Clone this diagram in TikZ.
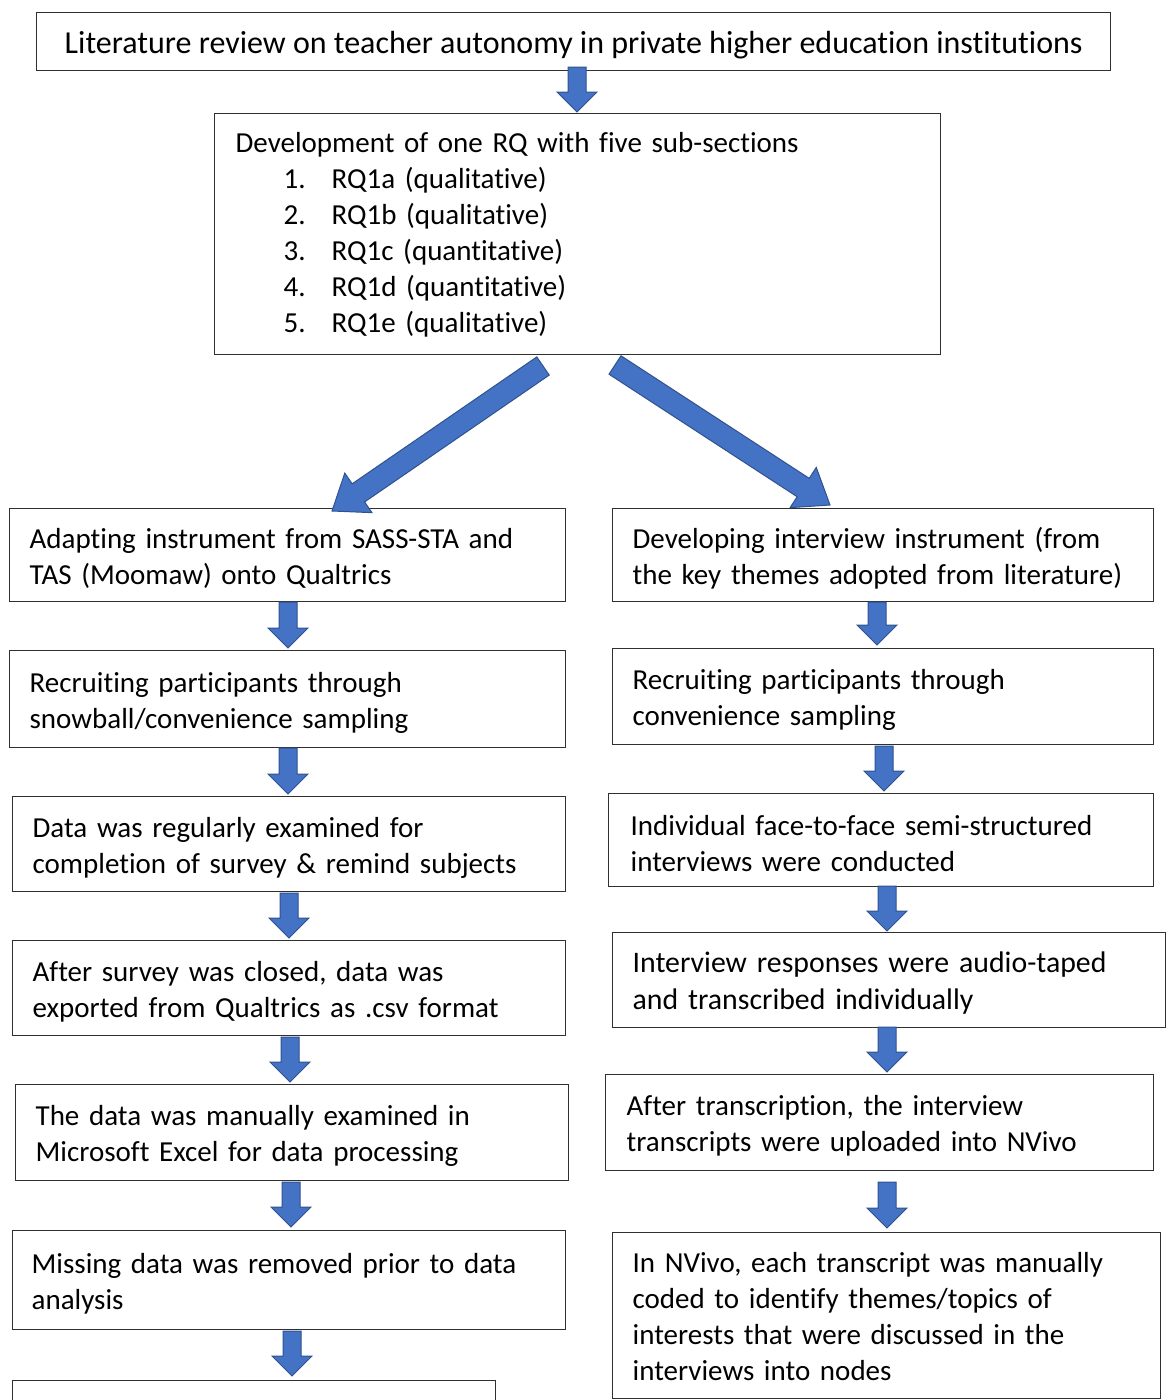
\documentclass[tikz,border=0pt]{standalone}
\usepackage{fontspec}
\setmainfont{Carlito}[Ligatures=NoCommon]
\usetikzlibrary{calc}

\definecolor{arrowblue}{HTML}{4472C4}
\definecolor{arrowedge}{HTML}{2F528F}
\definecolor{boxedge}{HTML}{303030}

% height of the strut opening each box's first line
\newcommand\boxstrut{27pt}

\tikzset{
  stepbox/.style={draw=boxedge, line width=1.3pt, anchor=north west, align=left,
    inner xsep=20pt, inner ysep=0pt, font=\fontsize{29}{36}\selectfont,
    execute at begin node={\rule{0pt}{\boxstrut}}},
  tallbox/.style={/utils/exec={\renewcommand\boxstrut{21pt}}},
  blockarrow/.style={fill=arrowblue, draw=arrowedge, line width=1pt, line join=miter},
}

% \flowbox[extra options]{name}{x1}{y1}{x2}{y2}{left padding}{text}
\newcommand\flowbox[8][]{%
  \pgfmathsetmacro\bw{#5-#3}%
  \pgfmathsetmacro\bh{#6-#4}%
  \pgfmathsetmacro\tw{#5-#3-2*#7}%
  \node[stepbox, inner xsep=#7pt, minimum width=\bw pt, minimum height=\bh pt,
        text width=\tw pt, #1] (#2) at (#3,#4) {#8};}

% \blkarrow{tail}{tip}{shaft half width}{head half width}{head length}
\newcommand\blkarrow[5]{%
  \coordinate (hb) at ($(#2)!#5pt!(#1)$);
  \filldraw[blockarrow]
    ($(#1)!#3pt!90:(#2)$) -- ($(hb)!#3pt!-90:(#1)$) -- ($(hb)!#4pt!-90:(#1)$)
    -- (#2) -- ($(hb)!#4pt!90:(#1)$) -- ($(hb)!#3pt!90:(#1)$)
    -- ($(#1)!#3pt!-90:(#2)$) -- cycle;}

% vertical block arrow between two stacked boxes
\newcommand\stepdown[4]{% name, x, y tail, y tip
  \coordinate (#1t) at (#2,#3);
  \coordinate (#1h) at (#2,#4);
  \blkarrow{#1t}{#1h}{9}{20}{20}}

\begin{document}
\begin{tikzpicture}[x=1pt, y=-1pt]
\useasboundingbox (0,0) rectangle (1168,1400);
\clip (0,0) rectangle (1168,1400);

% top box
\node[stepbox, align=center, inner xsep=0pt, minimum width=1074pt, minimum height=58pt,
      font=\fontsize{32}{38}\selectfont, /utils/exec={\renewcommand\boxstrut{29pt}}]
  (lit) at (36,12) {Literature review on teacher autonomy in private higher education institutions};

% research questions
\flowbox[tallbox]{rq}{214}{113}{940}{354}{21}{Development of one RQ with five sub-sections\\
\hspace*{48pt}\makebox[48pt][l]{1.}RQ1a (qualitative)\\
\hspace*{48pt}\makebox[48pt][l]{2.}RQ1b (qualitative)\\
\hspace*{48pt}\makebox[48pt][l]{3.}RQ1c (quantitative)\\
\hspace*{48pt}\makebox[48pt][l]{4.}RQ1d (quantitative)\\
\hspace*{48pt}\makebox[48pt][l]{5.}RQ1e (qualitative)}

% quantitative strand
\flowbox{qa}{9}{508}{565}{601}{20}{Adapting instrument from SASS-STA and\\TAS (Moomaw) onto Qualtrics}
\flowbox{qb}{9}{650}{565}{747}{20}{Recruiting participants through\\snowball/convenience sampling}
\flowbox{qc}{12}{796}{565}{891}{20}{Data was regularly examined for\\completion of survey \& remind subjects}
\flowbox{qd}{12}{940}{565}{1035}{20}{After survey was closed, data was\\exported from Qualtrics as .csv format}
\flowbox{qe}{15}{1084}{568}{1180}{20}{The data was manually examined in\\Microsoft Excel for data processing}
\flowbox{qf}{12}{1230}{565}{1329}{19}{Missing data was removed prior to data\\analysis}
\flowbox{qg}{12}{1380}{495}{1480}{20}{}

% qualitative strand
\flowbox{ia}{612}{508}{1153}{601}{20}{Developing interview instrument (from\\the key themes adopted from literature)}
\flowbox{ib}{612}{648}{1153}{744}{20}{Recruiting participants through\\convenience sampling}
\flowbox{ic}{608}{793}{1153}{886}{22}{Individual face-to-face semi-structured\\interviews were conducted}
\flowbox[font=\fontsize{29.8}{37}\selectfont]{id}{612}{932}{1165}{1027}{20}{Interview responses were audio-taped\\and transcribed individually}
\flowbox{ie}{605}{1074}{1153}{1170}{21}{After transcription, the interview\\transcripts were uploaded into NVivo}
\flowbox[tallbox]{if}{612}{1232}{1160}{1398}{20}{In NVivo, each transcript was manually\\coded to identify themes/topics of\\interests that were discussed in the\\interviews into nodes}

% arrows
\stepdown{a0}{577}{67}{112}

\coordinate (dlt) at (543,366);
\coordinate (dlh) at (332,511);
\blkarrow{dlt}{dlh}{11}{24}{32}
\coordinate (drt) at (615,365);
\coordinate (drh) at (830,505);
\blkarrow{drt}{drh}{11}{24}{32}

\stepdown{q1}{288}{602}{648}
\stepdown{q2}{288}{748}{794}
\stepdown{q3}{289}{893}{938}
\stepdown{q4}{290}{1037}{1082}
\stepdown{q5}{291}{1182}{1227}
\stepdown{q6}{292}{1331}{1376}

\stepdown{i1}{877}{602}{645}
\stepdown{i2}{884}{746}{791}
\stepdown{i3}{887}{886}{931}
\stepdown{i4}{887}{1027}{1072}
\stepdown{i5}{887}{1182}{1228}
\end{tikzpicture}
\end{document}
